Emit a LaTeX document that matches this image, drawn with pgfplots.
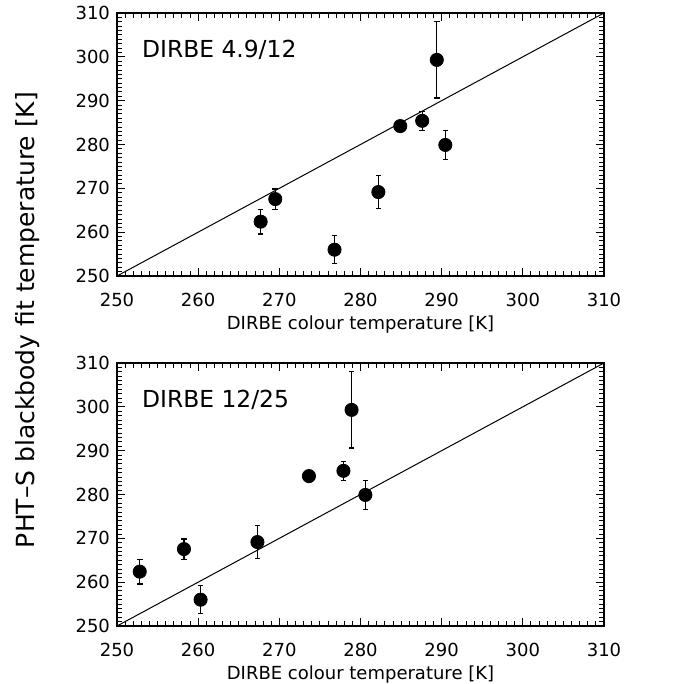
\documentclass[border=0pt]{standalone}
\usepackage{fontspec}
\setmainfont{DejaVu Sans}
\usepackage{pgfplots}
\pgfplotsset{compat=1.18}

% PHT-S blackbody fit temperature with errors
\pgfplotstableread{
x      y       ey
267.7  262.4   2.8
269.5  267.55  2.3
276.8  256.0   3.2
282.2  269.15  3.8
284.9  284.2   0.4
287.6  285.4   2.2
289.4  299.3   8.7
290.45 279.9   3.35
}\topdata
\pgfplotstableread{
x      y       ey
252.8  262.4   2.8
258.25 267.55  2.3
260.3  256.0   3.2
267.3  269.15  3.8
273.65 284.2   0.4
277.9  285.4   2.2
278.9  299.3   8.7
280.6  279.9   3.35
}\botdata

\pgfplotsset{
 panel/.style={
  width=243.5pt,height=131.5pt,scale only axis,
  xmin=250,xmax=310,ymin=250,ymax=310,
  xtick={250,260,...,310},ytick={250,260,...,310},
  minor x tick num=9,minor y tick num=9,
  major tick length=4pt,minor tick length=2.3pt,
  tick style={line width=0.5pt,black},
  minor tick style={line width=0.45pt,black},
  axis line style={line width=0.7pt},
  tick label style={font=\fontsize{9}{10}\selectfont},
  /pgf/number format/assume math mode=true,
  xticklabel style={yshift=-5pt},
  xlabel={DIRBE colour temperature [K]},
  xlabel style={at={(axis description cs:0.5,0)},anchor=north,yshift=-16.3pt,
   font=\fontsize{9}{10}\selectfont},
 },
 pts/.style={only marks,mark=*,mark size=3.3pt,black,
  error bars/.cd,y dir=both,y explicit,
  error bar style={line width=0.6pt,black},
  error mark options={rotate=90,mark size=1.4pt,line width=0.6pt}},
}

\begin{document}
\begin{tikzpicture}
\useasboundingbox (-58.5pt,-29pt) rectangle (280pt,313pt);

\begin{axis}[panel,at={(0pt,175pt)},anchor=south west]
\addplot[line width=0.5pt,black] coordinates {(250,250) (310,310)};
\addplot[pts] table[x=x,y=y,y error=ey] {\topdata};
\node[anchor=base west,inner sep=0pt,font=\fontsize{11.7}{13}\selectfont]
 at (rel axis cs:0.0507,0.832) {DIRBE 4.9/12};
\end{axis}

\begin{axis}[panel,at={(0pt,0pt)},anchor=south west]
\addplot[line width=0.5pt,black] coordinates {(250,250) (310,310)};
\addplot[pts] table[x=x,y=y,y error=ey] {\botdata};
\node[anchor=base west,inner sep=0pt,font=\fontsize{11.7}{13}\selectfont]
 at (rel axis cs:0.0507,0.832) {DIRBE 12/25};
\end{axis}

\node[rotate=90,anchor=base,inner sep=0pt,font=\fontsize{12.5}{14}\selectfont]
 at (-41pt,153pt) {PHT--S blackbody fit temperature [K]};
\end{tikzpicture}
\end{document}
